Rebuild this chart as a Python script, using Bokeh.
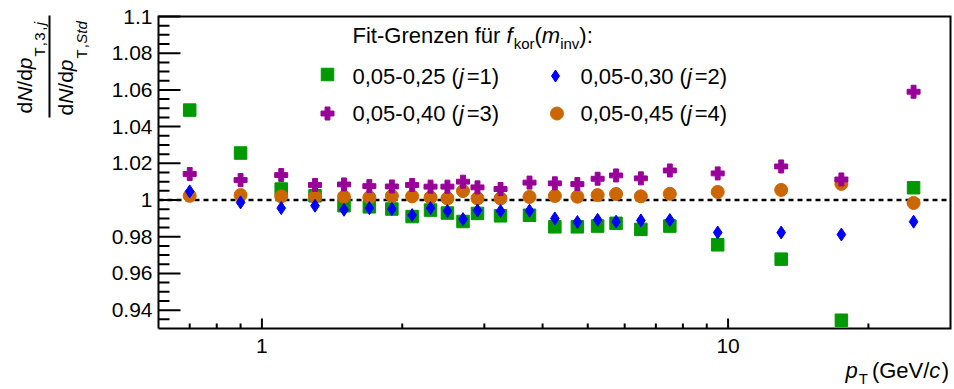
import math
from bokeh.plotting import figure
from bokeh.models import Range1d, LinearScale, Label, Arrow
from bokeh.embed import file_html
from bokeh.resources import INLINE

# pT bin centres (GeV/c)
pt = [0.7, 0.9, 1.1, 1.3, 1.5, 1.7, 1.9, 2.1, 2.3, 2.5, 2.7, 2.9,
      3.25, 3.75, 4.25, 4.75, 5.25, 5.75, 6.5, 7.5, 9.5, 13.0, 17.5, 25.0]

# ratio of spectra for the four fit ranges of f_kor(m_inv)
ratio_j1 = [1.0490, 1.0256, 1.0060, 1.0023, 0.9969, 0.9963, 0.9951, 0.9910, 0.9945, 0.9929, 0.9883, 0.9927,
            0.9914, 0.9917, 0.9854, 0.9854, 0.9858, 0.9873, 0.9840, 0.9858, 0.9756, 0.9678, 0.9345, 1.0067]
ratio_j2 = [1.0047, 0.9987, 0.9956, 0.9969, 0.9947, 0.9956, 0.9951, 0.9918, 0.9956, 0.9940, 0.9896, 0.9943,
            0.9940, 0.9942, 0.9900, 0.9880, 0.9892, 0.9882, 0.9889, 0.9891, 0.9823, 0.9823, 0.9812, 0.9882]
ratio_j3 = [1.0142, 1.0109, 1.0136, 1.0082, 1.0085, 1.0076, 1.0074, 1.0082, 1.0073, 1.0073, 1.0100, 1.0069,
            1.0060, 1.0095, 1.0091, 1.0087, 1.0116, 1.0134, 1.0118, 1.0161, 1.0145, 1.0183, 1.0112, 1.0590]
ratio_j4 = [1.0023, 1.0027, 1.0020, 1.0018, 1.0018, 1.0014, 1.0022, 1.0020, 1.0014, 1.0009, 1.0049, 1.0009,
            1.0009, 1.0017, 1.0022, 1.0018, 1.0027, 1.0033, 1.0020, 1.0034, 1.0044, 1.0055, 1.0088, 0.9984]

series_labels = ["0,05-0,25", "0,05-0,30", "0,05-0,40", "0,05-0,45"]
series_index = ["1", "2", "3", "4"]

# axis limits and ticks
x_lo, x_hi = 0.6, 30.0
y_lo, y_hi = 0.93, 1.1
y_ticks = [0.94, 0.96, 0.98, 1.0, 1.02, 1.04, 1.06, 1.08, 1.1]
y_tick_labels = ["0.94", "0.96", "0.98", "1", "1.02", "1.04", "1.06", "1.08", "1.1"]
y_minor = [0.935, 0.945, 0.95, 0.955, 0.965, 0.97, 0.975, 0.985, 0.99, 0.995,
           1.005, 1.01, 1.015, 1.025, 1.03, 1.035, 1.045, 1.05, 1.055,
           1.065, 1.07, 1.075, 1.085, 1.09, 1.095]
x_ticks = [1, 10]
x_tick_labels = ["1", "10"]
x_minor = [0.7, 0.8, 0.9, 2, 3, 4, 5, 6, 7, 8, 9, 20]

FONT = "Liberation Sans"
W, H = 954, 389
# data box inside the canvas (pixels from the top-left corner)
BOX_L, BOX_R, BOX_T, BOX_B = 158, 950, 16, 328

# extend the ranges so the data box lands on BOX_* while the frame spans the canvas
decade = (BOX_R - BOX_L) / math.log10(x_hi / x_lo)
xr = Range1d(x_lo * 10 ** (-BOX_L / decade), x_hi * 10 ** ((W - BOX_R) / decade))
per_px = (y_hi - y_lo) / (BOX_B - BOX_T)
yr = Range1d(y_lo - (H - BOX_B) * per_px, y_hi + BOX_T * per_px)

p = figure(width=W, height=H, x_axis_type="log", x_axis_location=None, y_axis_location=None,
           x_range=xr, y_range=yr, output_backend="svg", toolbar_location=None, min_border=0)
p.background_fill_color = "white"
p.border_fill_color = "white"
p.outline_line_color = None
p.grid.visible = False

# canvas-pixel ranges (origin top-left) for annotation placement
p.extra_x_ranges = {"px": Range1d(0, W)}
p.extra_x_scales = {"px": LinearScale()}
p.extra_y_ranges = {"py": Range1d(H, 0)}
p.extra_y_scales = {"py": LinearScale()}

# reference line at ratio 1
p.segment(x0=[x_lo], y0=[1.0], x1=[x_hi], y1=[1.0], line_color="black", line_width=2.5, line_dash="5 4")

GREEN, BLUE, MAGENTA, ORANGE = "#009900", "#0000ff", "#990099", "#cc6600"

p.scatter(pt, ratio_j1, marker="square", size=12.5, fill_color=GREEN, line_color=GREEN)
p.scatter(pt, ratio_j4, marker="circle", size=13, fill_color=ORANGE, line_color=ORANGE)
p.scatter(pt, ratio_j2, marker="diamond", size=13, fill_color=BLUE, line_color=BLUE)
p.scatter(pt, ratio_j3, marker="plus", size=13, fill_color=MAGENTA, line_color=MAGENTA)

# ticks pointing into the box, drawn as dash markers sized in screen pixels
p.scatter(x=[BOX_L + 11] * len(y_ticks), y=y_ticks, marker="dash", size=22,
          x_range_name="px", line_color="black", line_width=2)
p.scatter(x=[BOX_L + 5.5] * len(y_minor), y=y_minor, marker="dash", size=11,
          x_range_name="px", line_color="black", line_width=2)
p.scatter(x=x_ticks, y=[BOX_B - 5] * len(x_ticks), marker="dash", size=10, angle=math.pi / 2,
          y_range_name="py", line_color="black", line_width=2)
p.scatter(x=x_minor, y=[BOX_B - 2.5] * len(x_minor), marker="dash", size=5, angle=math.pi / 2,
          y_range_name="py", line_color="black", line_width=2)

# axes box
p.multi_line(xs=[[x_lo, x_hi, x_hi, x_lo, x_lo]], ys=[[y_lo, y_lo, y_hi, y_hi, y_lo]],
             line_color="black", line_width=2, line_join="miter")

# tick labels
p.text(x=[BOX_L - 6] * len(y_ticks), y=y_ticks, text=y_tick_labels, x_range_name="px",
       text_align="right", text_baseline="middle", text_font={"value": FONT},
       text_font_size="21px", text_color="black")
p.text(x=x_ticks, y=[BOX_B + 10] * len(x_ticks), text=x_tick_labels, y_range_name="py",
       text_align="center", text_baseline="top", text_font={"value": FONT},
       text_font_size="21px", text_color="black")

# Helvetica/Arial advance widths (1/1000 em)
ADV = {" ": 278, "!": 278, "(": 333, ")": 333, ",": 278, "-": 333, ".": 278, "/": 278, ":": 278,
       "=": 584, "A": 667, "F": 611, "G": 778, "N": 722, "S": 667, "T": 611, "V": 667,
       "a": 556, "c": 500, "d": 556, "e": 556, "f": 278, "i": 222, "j": 222, "k": 500,
       "m": 833, "n": 556, "o": 556, "p": 556, "r": 333, "t": 278, "u": 556, "v": 500,
       "z": 500, "ü": 556}


def adv(s, size):
    return sum(ADV.get(c, 556) for c in s) / 1000.0 * size


def text_run(pieces, cx, cy, rotated=False):
    """Lay out styled pieces with their baseline starting at (cx, cy), canvas pixels.
    pieces: (text, size, italic, baseline shift down, extra gap after)."""
    pos = 0.0
    for text, size, italic, dy, gap in pieces:
        down = dy - 0.4 * size  # label anchor sits this far below the baseline
        if rotated:
            x, y = cx + down, cy - pos
        else:
            x, y = cx + pos, cy + down
        p.add_layout(Label(x=x, y=H - y, x_units="screen", y_units="screen",
                           text=text, angle=math.pi / 2 if rotated else 0,
                           text_font=FONT, text_font_size=f"{size}px",
                           text_font_style="italic" if italic else "normal",
                           text_color="black", text_align="left", text_baseline="alphabetic"))
        pos += adv(text, size) + gap


# y-axis title: fraction of two spectra
text_run([("d", 21, False, 0, 0), ("N", 21, True, 0, 0), ("/d", 21, False, 0, 0), ("p", 21, True, 0, 1),
          ("T", 15, False, 13, 1), (",", 15, False, 13, 1.5), ("3", 15, False, 13, 1.5),
          (",", 15, False, 13, 1.5), ("j", 15, True, 13, 0)], 32, 113, rotated=True)
text_run([("d", 21, False, 0, 0), ("N", 21, True, 0, 0), ("/d", 21, False, 0, 0), ("p", 21, True, 0, 1),
          ("T", 15, False, 14, 1), (",", 15, False, 14, 0.5), ("S", 15, True, 14, 0),
          ("td", 15, True, 14, 0)], 73, 115, rotated=True)
p.add_layout(Arrow(x_start=49, y_start=H - 15, x_end=49, y_end=H - 117,
                   start_units="screen", end_units="screen", end=None,
                   line_color="black", line_width=2))

# x-axis title
text_run([("p", 22, True, 0, 1), ("T", 15, False, 5, 4), ("(GeV/", 22, False, 0, 0),
          ("c", 22, True, 0, 1.5), (")", 22, False, 0, 0)], 845, 379)

# legend header and entries
text_run([("Fit-Grenzen für ", 22, False, 0, 0), ("f", 22, True, 0, 1), ("kor", 15, False, 5, 0),
          ("(", 22, False, 0, 0), ("m", 22, True, 0, 0), ("inv", 15, False, 5, 0),
          ("):", 22, False, 0, 0)], 352, 44)

legend_pos = [(352, 85), (580, 85), (352, 122), (580, 122)]
swatch_pos = [(327, 74), (555, 75.5), (327, 113), (556.5, 113)]
swatch_style = [("square", 12.5, GREEN), ("diamond", 12, BLUE), ("plus", 13, MAGENTA), ("circle", 13, ORANGE)]
for (tx, ty), (sx, sy), (mk, sz, col), lab, idx in zip(legend_pos, swatch_pos, swatch_style,
                                                       series_labels, series_index):
    text_run([(lab + " (", 22, False, 0, 0), ("j", 22, True, 0, 3), ("=" + idx + ")", 22, False, 0, 0)], tx, ty)
    p.scatter([sx], [sy], marker=mk, size=sz, fill_color=col, line_color=col,
              x_range_name="px", y_range_name="py")

open("out.html", "w").write(file_html(p, INLINE))
